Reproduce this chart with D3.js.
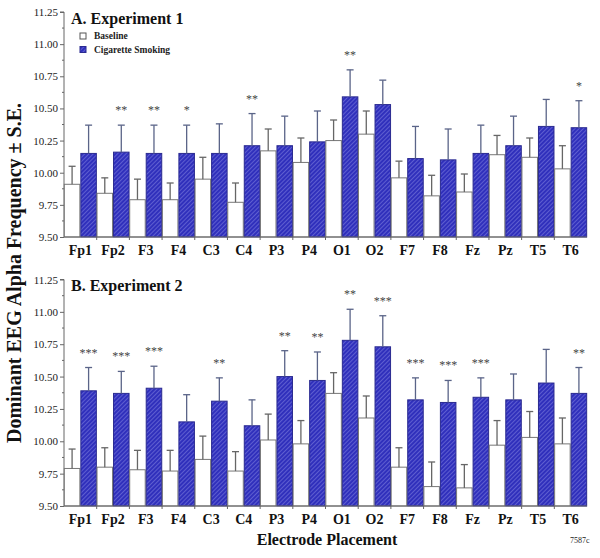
<!DOCTYPE html>
<html>
<head>
<meta charset="utf-8">
<script src="https://cdn.jsdelivr.net/npm/d3@7/dist/d3.min.js"></script>
<style>
  html, body { margin: 0; padding: 0; background: #fff; }
  svg { display: block; }
</style>
</head>
<body>
<svg id="chart" width="600" height="558" font-family="Liberation Serif"></svg>
<script>
// ---------- DATA ----------
const electrodes = ["Fp1","Fp2","F3","F4","C3","C4","P3","P4","O1","O2","F7","F8","Fz","Pz","T5","T6"];
const seriesNames = ["Baseline", "Cigarette Smoking"];
const yTicks = [9.50, 9.75, 10.00, 10.25, 10.50, 10.75, 11.00, 11.25];

// Experiment 1
const exp1Baseline   = [9.91, 9.84, 9.79, 9.79, 9.95, 9.77, 10.17, 10.08, 10.25, 10.30, 9.96, 9.82, 9.85, 10.14, 10.12, 10.03];
const exp1BaselineSE = [0.14, 0.12, 0.16, 0.13, 0.17, 0.15, 0.17, 0.19, 0.16, 0.18, 0.13, 0.16, 0.14, 0.15, 0.15, 0.18];
const exp1Smoking    = [10.15, 10.16, 10.15, 10.15, 10.15, 10.21, 10.21, 10.24, 10.59, 10.53, 10.11, 10.10, 10.15, 10.21, 10.36, 10.35];
const exp1SmokingSE  = [0.22, 0.21, 0.22, 0.22, 0.23, 0.25, 0.23, 0.24, 0.21, 0.19, 0.25, 0.24, 0.22, 0.23, 0.21, 0.21];
const exp1Stars      = ["", "**", "**", "*", "", "**", "", "", "**", "", "", "", "", "", "", "*"];

// Experiment 2
const exp2Baseline   = [9.79, 9.80, 9.78, 9.77, 9.86, 9.77, 10.01, 9.98, 10.37, 10.18, 9.80, 9.65, 9.64, 9.97, 10.03, 9.98];
const exp2BaselineSE = [0.15, 0.15, 0.15, 0.16, 0.18, 0.15, 0.20, 0.18, 0.16, 0.17, 0.15, 0.19, 0.18, 0.19, 0.20, 0.20];
const exp2Smoking    = [10.39, 10.37, 10.41, 10.15, 10.31, 10.12, 10.50, 10.47, 10.78, 10.73, 10.32, 10.30, 10.34, 10.32, 10.45, 10.37];
const exp2SmokingSE  = [0.18, 0.17, 0.17, 0.21, 0.18, 0.20, 0.20, 0.22, 0.24, 0.24, 0.17, 0.17, 0.15, 0.20, 0.26, 0.20];
const exp2Stars      = ["***", "***", "***", "", "**", "", "**", "**", "**", "***", "***", "***", "***", "", "", "**"];

const panelTitles = ["A. Experiment 1", "B. Experiment 2"];
const xTitle = "Electrode Placement";
const yTitle = "Dominant EEG Alpha Frequency \u00B1 S.E.";
const figCode = "7587c";

// ---------- DRAW ----------
const FONT = "Liberation Serif";
const svg = d3.select("#chart");
const defs = svg.append("defs");
const pat = defs.append("pattern")
  .attr("id", "hatch").attr("patternUnits", "userSpaceOnUse")
  .attr("width", 3).attr("height", 3)
  .attr("patternTransform", "rotate(45)");
pat.append("rect").attr("width", 3).attr("height", 3).attr("fill", "#3030bc");
pat.append("line").attr("x1", 0).attr("y1", 0).attr("x2", 0).attr("y2", 3)
  .attr("stroke", "#8c8ce4").attr("stroke-width", 1);

const left = 64, right = 587;
const x = d3.scaleBand().domain(electrodes).range([left, right]).paddingInner(0).paddingOuter(0);
const sub = d3.scaleBand().domain(seriesNames).range([0, x.bandwidth()]).paddingInner(0.06).paddingOuter(0.02);

function panel(top, bottom, base, baseSE, smoke, smokeSE, stars, title, showLegend) {
  const y = d3.scaleLinear().domain([9.5, 11.25]).range([bottom, top]);
  const g = svg.append("g");

  // minor ticks
  const minor = d3.range(9.5, 11.25, 0.125).filter((v, i) => i % 2 === 1);
  g.append("g").selectAll("line").data(minor).join("line")
    .attr("x1", left - 2).attr("x2", left).attr("y1", d => y(d)).attr("y2", d => y(d))
    .attr("stroke", "#666").attr("stroke-width", 1);

  // y axis
  const yAxis = d3.axisLeft(y).tickValues(yTicks).tickFormat(d3.format(".2f")).tickSize(4).tickPadding(2);
  const ya = g.append("g").attr("transform", `translate(${left},0)`).call(yAxis)
    .attr("font-family", FONT).attr("font-size", 11);
  ya.select(".domain").attr("stroke", "#666").attr("d", `M-4,${y(11.25)}H0V${y(9.5)}`);
  ya.selectAll(".tick line").attr("stroke", "#666");
  ya.selectAll(".tick text").attr("font-size", 11).attr("fill", "#222")
    .attr("font-family", FONT);

  const rows = electrodes.map((e, i) => ({ e, i, vals: [
    { s: seriesNames[0], v: base[i], se: baseSE[i] },
    { s: seriesNames[1], v: smoke[i], se: smokeSE[i] }
  ]}));

  const grp = g.append("g").selectAll("g").data(rows).join("g")
    .attr("transform", d => `translate(${x(d.e)},0)`);

  grp.selectAll("rect").data(d => d.vals).join("rect")
    .attr("x", d => sub(d.s)).attr("width", sub.bandwidth())
    .attr("y", d => y(d.v)).attr("height", d => y(9.5) - y(d.v))
    .attr("fill", d => d.s === seriesNames[0] ? "#ffffff" : "url(#hatch)")
    .attr("stroke", d => d.s === seriesNames[0] ? "#777" : "#2a2a90")
    .attr("stroke-width", 1);

  // error bars (upper only)
  const eb = grp.selectAll("g.eb").data(d => d.vals).join("g").attr("class", "eb");
  const ebColor = d => d.s === seriesNames[0] ? "#666" : "#5a6488";
  eb.append("line")
    .attr("x1", d => sub(d.s) + sub.bandwidth() / 2).attr("x2", d => sub(d.s) + sub.bandwidth() / 2)
    .attr("y1", d => y(d.v)).attr("y2", d => y(d.v + d.se))
    .attr("stroke", ebColor).attr("stroke-width", 1.3);
  eb.append("line")
    .attr("x1", d => sub(d.s) + sub.bandwidth() / 2 - 3.5).attr("x2", d => sub(d.s) + sub.bandwidth() / 2 + 3.5)
    .attr("y1", d => y(d.v + d.se)).attr("y2", d => y(d.v + d.se))
    .attr("stroke", ebColor).attr("stroke-width", 1.3);

  // significance stars
  grp.append("text")
    .attr("x", sub(seriesNames[1]) + sub.bandwidth() / 2)
    .attr("y", d => y(d.vals[1].v + d.vals[1].se) - 11)
    .attr("text-anchor", "middle").attr("font-family", FONT).attr("font-size", 12).attr("fill", "#444")
    .text(d => stars[d.i]);

  // x axis
  const xa = g.append("g").attr("transform", `translate(0,${bottom})`);
  xa.append("line").attr("x1", left).attr("x2", right).attr("y1", 0).attr("y2", 0).attr("stroke", "#666");
  xa.selectAll("line.t").data(electrodes.slice(1)).join("line").attr("class", "t")
    .attr("x1", d => x(d)).attr("x2", d => x(d)).attr("y1", 0).attr("y2", 3).attr("stroke", "#666");
  xa.selectAll("text").data(electrodes).join("text")
    .attr("x", d => x(d) + x.bandwidth() / 2).attr("y", 18)
    .attr("text-anchor", "middle").attr("font-family", FONT).attr("font-weight", "bold")
    .attr("font-size", 14).attr("fill", "#111")
    .text(d => d);

  // title
  g.append("text").attr("x", 71).attr("y", top + 11.5).attr("font-family", FONT)
    .attr("font-weight", "bold").attr("font-size", 16).attr("fill", "#111").text(title);

  if (showLegend) {
    const lg = g.append("g").attr("transform", `translate(80,${top + 21})`);
    seriesNames.forEach((s, i) => {
      lg.append("rect").attr("x", 0).attr("y", i * 13.5).attr("width", 6).attr("height", 6)
        .attr("fill", i === 0 ? "#fff" : "url(#hatch)").attr("stroke", i === 0 ? "#555" : "#2a2a90");
      lg.append("text").attr("x", 14).attr("y", i * 13.5 + 6).attr("font-family", FONT)
        .attr("font-weight", "bold").attr("font-size", 9.5).attr("fill", "#222").text(s);
    });
  }
}

panel(12, 237, exp1Baseline, exp1BaselineSE, exp1Smoking, exp1SmokingSE, exp1Stars, panelTitles[0], true);
panel(279.5, 506, exp2Baseline, exp2BaselineSE, exp2Smoking, exp2SmokingSE, exp2Stars, panelTitles[1], false);

svg.append("text").attr("transform", "translate(21,273) rotate(-90)")
  .attr("text-anchor", "middle").attr("font-family", FONT).attr("font-weight", "bold")
  .attr("font-size", 20).attr("fill", "#111")
  .text(yTitle);

svg.append("text").attr("x", 327).attr("y", 545).attr("text-anchor", "middle").attr("font-family", FONT)
  .attr("font-weight", "bold").attr("font-size", 16).attr("fill", "#111").text(xTitle);

svg.append("text").attr("x", 570).attr("y", 543).attr("font-family", FONT)
  .attr("font-size", 8).attr("fill", "#222").text(figCode);
</script>
</body>
</html>
